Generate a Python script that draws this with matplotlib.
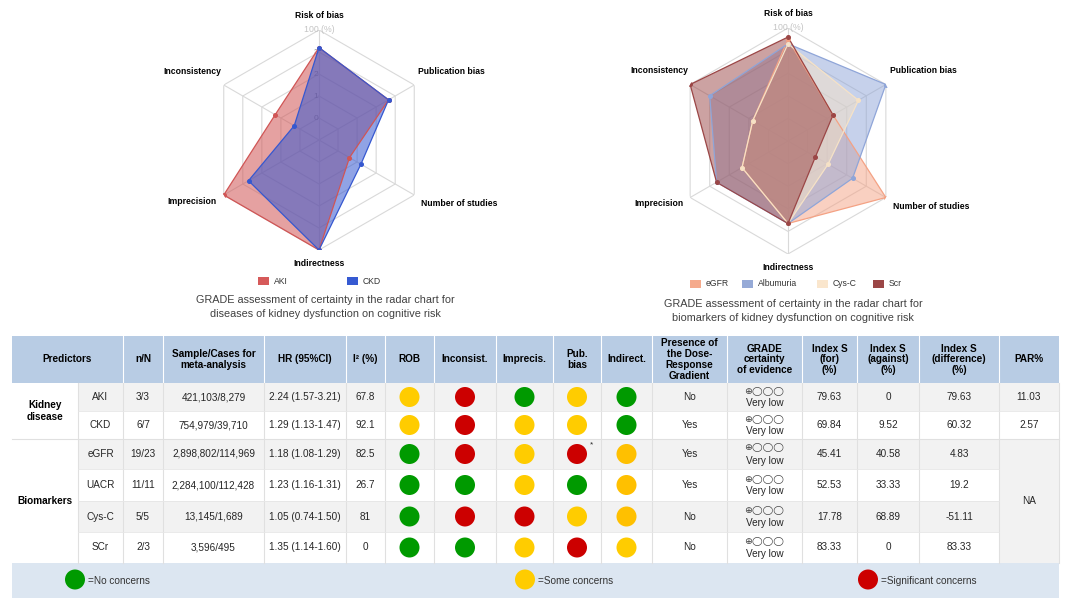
import numpy as np
import matplotlib
matplotlib.use('Agg')
import matplotlib.pyplot as plt
from matplotlib.patches import Rectangle, Circle

plt.rcParams['font.family'] = ['Liberation Sans', 'DejaVu Sans']

# ---- radar data (ring units, outer ring = 5) ----
radar_axes = ['Risk of bias', 'Publication bias', 'Number of studies',
              'Indirectness', 'Imprecision', 'Inconsistency']
aki = [4.2, 3.65, 1.6, 5.0, 5.0, 2.3]
ckd = [4.2, 3.65, 2.2, 5.0, 3.7, 1.3]
egfr = [4.5, 2.3, 5.0, 3.65, 2.35, 1.8]
albumuria = [4.3, 5.0, 3.3, 3.65, 3.65, 4.0]
cysc = [4.3, 3.6, 2.05, 3.65, 2.35, 1.8]
scr = [4.6, 2.3, 1.4, 3.65, 3.65, 5.0]
ring_labels = ['0', '1', '2', '3']

# ---- table data ----
groups = ['Kidney\ndisease', 'Biomarkers']
group_rows = [2, 4]
predictors = ['AKI', 'CKD', 'eGFR', 'UACR', 'Cys-C', 'SCr']
n_N = ['3/3', '6/7', '19/23', '11/11', '5/5', '2/3']
sample_cases = ['421,103/8,279', '754,979/39,710', '2,898,802/114,969',
                '2,284,100/112,428', '13,145/1,689', '3,596/495']
hr = ['2.24 (1.57-3.21)', '1.29 (1.13-1.47)', '1.18 (1.08-1.29)',
      '1.23 (1.16-1.31)', '1.05 (0.74-1.50)', '1.35 (1.14-1.60)']
i2 = ['67.8', '92.1', '82.5', '26.7', '81', '0']
rob = ['y', 'y', 'g', 'g', 'g', 'g']
inconsist = ['r', 'r', 'r', 'g', 'r', 'g']
imprecis = ['g', 'y', 'y', 'y', 'r', 'y']
pub_bias = ['y', 'y', 'r', 'g', 'y', 'r']
indirect = ['g', 'g', 'o', 'o', 'o', 'y']
dose_resp = ['No', 'Yes', 'Yes', 'Yes', 'No', 'No']
grade = ['Very low'] * 6
index_for = ['79.63', '69.84', '45.41', '52.53', '17.78', '83.33']
index_against = ['0', '9.52', '40.58', '33.33', '68.89', '0']
index_diff = ['79.63', '60.32', '4.83', '19.2', '-51.11', '83.33']
par = ['11.03', '2.57', 'NA']

headers = ['n/N', 'Sample/Cases for\nmeta-analysis', 'HR (95%CI)', 'I² (%)', 'ROB',
           'Inconsist.', 'Imprecis.', 'Pub.\nbias', 'Indirect.',
           'Presence of\nthe Dose-\nResponse\nGradient', 'GRADE\ncertainty\nof evidence',
           'Index S\n(for)\n(%)', 'Index S\n(against)\n(%)', 'Index S\n(difference)\n(%)', 'PAR%']

dot_colors = {'g': '#009a00', 'y': '#ffcc00', 'o': '#ffc000', 'r': '#cc0000'}

# layout in pixels
col_x = [12, 78, 123, 163, 264, 346, 385, 434, 496, 553, 601, 652, 727, 802, 857, 919, 999, 1059]
row_y = [336, 383, 411, 439, 469, 501, 532, 563, 598]

fig = plt.figure(figsize=(10.8, 6.0), dpi=100)
ax = fig.add_axes([0, 0, 1, 1])
ax.set_xlim(0, 1080)
ax.set_ylim(600, 0)
ax.axis('off')

TXT = 7.2
dark = '#262626'


def cx(i):
    return (col_x[i] + col_x[i + 1]) / 2


def cy(j):
    return (row_y[j] + row_y[j + 1]) / 2


# header
ax.add_patch(Rectangle((col_x[0], row_y[0]), col_x[-1] - col_x[0], row_y[1] - row_y[0],
                       fc='#b8cce4', ec='none'))
for x in col_x[2:-1]:
    ax.plot([x, x], [row_y[0], row_y[1]], color='white', lw=0.8)
ax.text((col_x[0] + col_x[2]) / 2, cy(0), 'Predictors', ha='center', va='center',
        fontsize=TXT, fontweight='bold')
for k, h in enumerate(headers):
    ax.text(cx(k + 2), cy(0), h, ha='center', va='center', fontsize=TXT,
            fontweight='bold', linespacing=1.1)

# body stripes
for j in range(6):
    fc = '#f2f2f2' if j % 2 == 0 else 'white'
    ax.add_patch(Rectangle((col_x[1], row_y[j + 1]), col_x[-1] - col_x[1],
                           row_y[j + 2] - row_y[j + 1], fc=fc, ec='none'))
# merged NA cell
ax.add_patch(Rectangle((col_x[16], row_y[3]), col_x[17] - col_x[16], row_y[7] - row_y[3],
                       fc='#f2f2f2', ec='none'))

# grid lines
for x in col_x[1:]:
    ax.plot([x, x], [row_y[1], row_y[7]], color='#e0e0e0', lw=0.8)
for y in row_y[2:7]:
    ax.plot([col_x[1], col_x[16]], [y, y], color='#e6e6e6', lw=0.6)
ax.plot([col_x[0], col_x[-1]], [row_y[3], row_y[3]], color='#e0e0e0', lw=0.8)
ax.plot([col_x[16], col_x[17]], [row_y[2], row_y[2]], color='#e6e6e6', lw=0.6)

# group labels
start = 1
for g, n in zip(groups, group_rows):
    ax.text(cx(0), (row_y[start] + row_y[start + n]) / 2, g, ha='center', va='center',
            fontsize=TXT, fontweight='bold', linespacing=1.2)
    start += n

# cell contents
text_cols = {1: predictors, 2: n_N, 3: sample_cases, 4: hr, 5: i2, 11: dose_resp,
             13: index_for, 14: index_against, 15: index_diff}
dot_cols = {6: rob, 7: inconsist, 8: imprecis, 9: pub_bias, 10: indirect}
for j in range(6):
    y = cy(j + 1)
    for c, vals in text_cols.items():
        ax.text(cx(c), y, vals[j], ha='center', va='center', fontsize=TXT, color=dark)
    for c, vals in dot_cols.items():
        ax.add_patch(Circle((cx(c), y), 10, fc=dot_colors[vals[j]], ec='none'))
    ax.text(cx(12), y - 6, '⊕◯◯◯', ha='center', va='center', fontsize=6.8,
            color='#404040', family=['DejaVu Sans'])
    ax.text(cx(12), y + 6.5, grade[j], ha='center', va='center', fontsize=TXT, color=dark)
# eGFR asterisk
ax.text(cx(9) + 14, cy(3) - 9, '*', ha='center', va='center', fontsize=6, color=dark)
ax.text(cx(16), cy(1), par[0], ha='center', va='center', fontsize=TXT, color=dark)
ax.text(cx(16), cy(2), par[1], ha='center', va='center', fontsize=TXT, color=dark)
ax.text(cx(16), (row_y[3] + row_y[7]) / 2, par[2], ha='center', va='center',
        fontsize=TXT, color=dark)

# legend row
ax.add_patch(Rectangle((col_x[0], row_y[7]), col_x[-1] - col_x[0], row_y[8] - row_y[7],
                       fc='#dce6f1', ec='none'))
ly = cy(7) - 1
for lx, key, lab in [(75, 'g', '=No concerns'), (525, 'y', '=Some concerns'),
                     (868, 'r', '=Significant concerns')]:
    ax.add_patch(Circle((lx, ly), 10, fc=dot_colors[key], ec='none'))
    ax.text(lx + 13, ly + 1, lab, ha='left', va='center', fontsize=TXT, color='#333333')


# ---- radar charts ----
angles = np.deg2rad(np.arange(0, 360, 60))
closed = np.append(angles, angles[0])
label_offsets = [((0, 14), 'center'), ((4, 14), 'left'), ((7, -9), 'left'),
                 ((0, -13), 'center'), ((-7, -6), 'right'), ((-2, 14), 'right')]


def draw_radar(center, radius, series, colors, alpha, show_rings):
    px, py = center
    rect = [(px - radius) / 1080, (600 - py - radius) / 600, 2 * radius / 1080, 2 * radius / 600]
    rax = fig.add_axes(rect, projection='polar')
    rax.set_theta_zero_location('N')
    rax.set_theta_direction(-1)
    rax.set_ylim(0, 5)
    rax.set_xticks([])
    rax.set_yticks([])
    rax.grid(False)
    rax.spines['polar'].set_visible(False)
    rax.patch.set_alpha(0)
    for r in range(1, 6):
        rax.plot(closed, [r] * 7, color='#d9d9d9', lw=0.8, zorder=1)
    for a in angles:
        rax.plot([a, a], [0, 5], color='#d9d9d9', lw=0.8, zorder=1)
    if show_rings:
        for r, lab in enumerate(ring_labels, start=1):
            rax.annotate(lab, xy=(0, r), xytext=(-3, 0), textcoords='offset pixels',
                         ha='center', va='center', fontsize=6, color='#8c8c8c', zorder=1.5)
    rax.annotate('100 (%)', xy=(0, 5), xytext=(0, 1), textcoords='offset pixels',
                 ha='center', va='center', fontsize=6.3, color='#c4c4c4', zorder=1.5)
    for vals, col in zip(series, colors):
        v = np.append(vals, vals[0])
        rax.fill(closed, v, color=col, alpha=alpha, lw=0, zorder=2)
        rax.plot(closed, v, color=col, lw=0.9, zorder=3)
        rax.plot(angles, vals, 'o', ms=2.6, color=col, zorder=4)
    for a, lab, (off, ha) in zip(angles, radar_axes, label_offsets):
        rax.annotate(lab, xy=(a, 5), xytext=off, textcoords='offset pixels', ha=ha,
                     va='center', fontsize=6.2, fontweight='bold', annotation_clip=False)
    return rax


draw_radar((319, 140), 110, [aki, ckd], ['#d05555', '#3658d0'], 0.55, True)
draw_radar((788, 141), 113, [egfr, albumuria, cysc, scr],
           ['#f4a284', '#8fa5d8', '#f6e2c6', '#9b4646'], 0.5, False)

# radar legends and captions
for x0, y0, col, lab in [(258, 281, '#d65a5a', 'AKI'), (347, 281, '#365ad2', 'CKD'),
                         (690, 284, '#f5aa8c', 'eGFR'), (742, 284, '#96aad7', 'Albumuria'),
                         (817, 284, '#fae6cd', 'Cys-C'), (873, 284, '#9b4646', 'Scr')]:
    ax.add_patch(Rectangle((x0, y0 - 4), 10.5, 8, fc=col, ec='none'))
    ax.text(x0 + 16, y0, lab, ha='left', va='center', fontsize=6.2, color='#333333')

ax.text(325, 307, 'GRADE assessment of certainty in the radar chart for\n'
        'diseases of kidney dysfunction on cognitive risk',
        ha='center', va='center', fontsize=7.8, color='#404040', linespacing=1.45)
ax.text(793, 311, 'GRADE assessment of certainty in the radar chart for\n'
        'biomarkers of kidney dysfunction on cognitive risk',
        ha='center', va='center', fontsize=7.8, color='#404040', linespacing=1.45)

fig.savefig('out.png', dpi=100)
